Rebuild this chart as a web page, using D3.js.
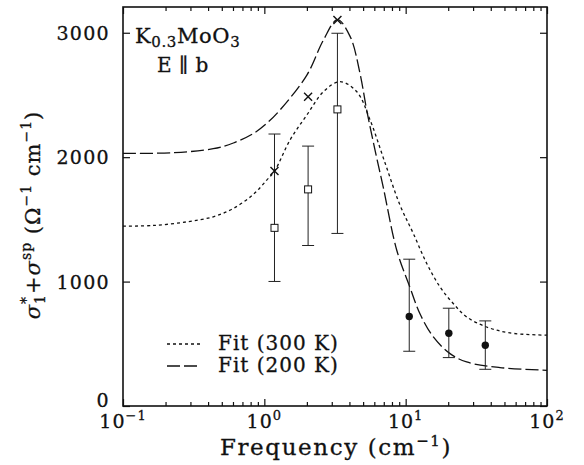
<!DOCTYPE html>
<html><head><meta charset="utf-8">
<script src="https://cdn.jsdelivr.net/npm/d3@7"></script>
<style>
body{margin:0;background:#fff}
text{font-family:"DejaVu Serif",serif;fill:#111;stroke:#111;stroke-width:0.3px}
</style>
</head><body>
<svg id="c" width="584" height="465"></svg>
<script>
// ---- data ----
const xMajorTicks = [0.1, 1, 10, 100];
const xTickExponents = ["−1", "0", "1", "2"];
const yTicks = [0, 1000, 2000, 3000];
const yTickLabels = ["0", "1000", "2000", "3000"];

// Fit (300 K) dotted curve
const fit300Freq = [0.1, 0.164, 0.282, 0.435, 0.604, 0.836, 1.04, 1.18, 1.52, 2.0, 2.62, 3.43, 4.51, 5.6, 7.14, 9.12, 11.3, 14.1, 17.5, 21.7, 27, 37.4, 54.7, 100];
const fit300Val  = [1446, 1451, 1480, 1521, 1588, 1701, 1816, 1888, 2138, 2339, 2526, 2607, 2526, 2299, 1955, 1614, 1389, 1145, 957, 824, 716, 635, 587, 569];
// Fit (200 K) dashed curve
const fit200Freq = [0.1, 0.227, 0.435, 0.604, 0.836, 1.04, 1.29, 2.0, 2.62, 3.29, 4.05, 4.75, 5.3, 6.07, 6.95, 8.65, 10.7, 12.6, 15.7, 20.6, 27, 46.5, 100];
const fit200Val  = [2030, 2036, 2068, 2114, 2190, 2272, 2379, 2660, 2942, 3105, 2969, 2674, 2378, 2057, 1755, 1252, 957, 743, 555, 421, 354, 309, 287];

// crosses
const crossFreq = [1.18, 2.04, 3.29];
const crossVal  = [1888, 2486, 3103];
// open squares with error bars
const squareFreq = [1.18, 2.04, 3.29];
const squareVal  = [1432, 1741, 2384];
const squareLow  = [1001, 1290, 1387];
const squareHigh = [2186, 2089, 2996];
// filled circles with error bars
const circleFreq = [10.6, 20.2, 36.6];
const circleVal  = [719, 585, 488];
const circleLow  = [440, 389, 295];
const circleHigh = [1180, 786, 684];

const legendLabels = ["Fit (300 K)", "Fit (200 K)"];

// ---- layout ----
const L = 123, R = 547, T = 7, B = 406;
const svg = d3.select("#c");
const x = d3.scaleLog().domain([0.1, 100]).range([L, R]);
const y = d3.scaleLinear().domain([0, 3207]).range([B, T]);

const minorTicks = x.ticks().filter(v => !xMajorTicks.some(m => Math.abs(m - v) / m < 1e-6));

function axisGroup(axis, tx, ty) {
  const g = svg.append("g").attr("transform", `translate(${tx},${ty})`).call(axis);
  g.select(".domain").remove();
  g.selectAll("line").attr("stroke", "#111").attr("stroke-width", 1.2);
  g.selectAll("text").remove();
  return g;
}
axisGroup(d3.axisBottom(x).tickValues(xMajorTicks).tickSize(-7).tickFormat(""), 0, B);
axisGroup(d3.axisBottom(x).tickValues(minorTicks).tickSize(-4).tickFormat(""), 0, B);
axisGroup(d3.axisTop(x).tickValues(xMajorTicks).tickSize(-7).tickFormat(""), 0, T);
axisGroup(d3.axisTop(x).tickValues(minorTicks).tickSize(-4).tickFormat(""), 0, T);
axisGroup(d3.axisLeft(y).tickValues(yTicks).tickSize(-7).tickFormat(""), L, 0);
axisGroup(d3.axisRight(y).tickValues(yTicks).tickSize(-7).tickFormat(""), R, 0);

svg.append("rect").attr("x", L).attr("y", T).attr("width", R - L).attr("height", B - T)
  .attr("fill", "none").attr("stroke", "#111").attr("stroke-width", 1.6);

// tick labels
xMajorTicks.forEach((v, i) => {
  const t = svg.append("text").attr("x", x(v)).attr("y", 428).attr("text-anchor", "middle")
    .attr("font-size", 19).attr("letter-spacing", 1);
  t.append("tspan").text("10");
  t.append("tspan").attr("dy", -8).attr("font-size", 13).text(xTickExponents[i]);
});
yTicks.forEach((v, i) => {
  svg.append("text").attr("x", 110).attr("y", v === 0 ? y(v) + 1 : y(v) + 7).attr("text-anchor", "end")
    .attr("font-size", 19).attr("letter-spacing", 1.3).text(yTickLabels[i]);
});

// axis titles
const xt = svg.append("text").attr("x", (L + R) / 2 + 1).attr("y", 455).attr("text-anchor", "middle")
  .attr("font-size", 23).attr("letter-spacing", 1.6);
xt.append("tspan").text("Frequency (cm");
xt.append("tspan").attr("dy", -9).attr("font-size", 15).text("−1");
xt.append("tspan").attr("dy", 9).text(")");

const yt = svg.append("text").attr("transform", "translate(40,215) rotate(-90)")
  .attr("text-anchor", "middle").attr("font-size", 21).attr("letter-spacing", 1);
yt.append("tspan").attr("font-style", "italic").text("σ");
yt.append("tspan").attr("dy", -9).attr("font-size", 14).text("*");
yt.append("tspan").attr("dx", -8).attr("dy", 14).attr("font-size", 14).text("1");
yt.append("tspan").attr("dy", -5).text("+");
yt.append("tspan").attr("font-style", "italic").text("σ");
yt.append("tspan").attr("dy", -9).attr("font-size", 14).text("sp");
yt.append("tspan").attr("dy", 9).text(" (Ω");
yt.append("tspan").attr("dy", -9).attr("font-size", 14).text("−1");
yt.append("tspan").attr("dy", 9).text(" cm");
yt.append("tspan").attr("dy", -9).attr("font-size", 14).text("−1");
yt.append("tspan").attr("dy", 9).text(")");

// annotation
const k = svg.append("text").attr("x", 135).attr("y", 43).attr("font-size", 21).attr("letter-spacing", 0.6);
k.append("tspan").text("K");
k.append("tspan").attr("dy", 4).attr("font-size", 15).text("0.3");
k.append("tspan").attr("dy", -4).text("MoO");
k.append("tspan").attr("dy", 4).attr("font-size", 15).text("3");
svg.append("text").attr("x", 157).attr("y", 72).attr("font-size", 20).attr("letter-spacing", 0.5).text("E ∥ b");

// curves
const line = d3.line().curve(d3.curveCatmullRom.alpha(0.5));
svg.append("path").attr("d", line(fit300Freq.map((f, i) => [x(f), y(fit300Val[i])])))
  .attr("fill", "none").attr("stroke", "#111").attr("stroke-width", 1.3).attr("stroke-dasharray", "3,3");
svg.append("path").attr("d", line(fit200Freq.map((f, i) => [x(f), y(fit200Val[i])])))
  .attr("fill", "none").attr("stroke", "#111").attr("stroke-width", 1.3).attr("stroke-dasharray", "13,4");

// error bars
function errBars(fr, lo, hi) {
  fr.forEach((f, i) => {
    const cx = x(f);
    svg.append("line").attr("x1", cx).attr("x2", cx).attr("y1", y(lo[i])).attr("y2", y(hi[i]))
      .attr("stroke", "#222").attr("stroke-width", 1);
    [lo[i], hi[i]].forEach(v => svg.append("line").attr("x1", cx - 6).attr("x2", cx + 6)
      .attr("y1", y(v)).attr("y2", y(v)).attr("stroke", "#222").attr("stroke-width", 1));
  });
}
errBars(squareFreq, squareLow, squareHigh);
errBars(circleFreq, circleLow, circleHigh);

squareFreq.forEach((f, i) => {
  svg.append("rect").attr("x", x(f) - 3.5).attr("y", y(squareVal[i]) - 3.5).attr("width", 7).attr("height", 7)
    .attr("fill", "#fff").attr("stroke", "#111").attr("stroke-width", 1);
});
crossFreq.forEach((f, i) => {
  const cx = x(f), cy = y(crossVal[i]);
  svg.append("path").attr("d", `M${cx - 4},${cy - 4}L${cx + 4},${cy + 4}M${cx - 4},${cy + 4}L${cx + 4},${cy - 4}`)
    .attr("stroke", "#111").attr("stroke-width", 1.4);
});
circleFreq.forEach((f, i) => {
  svg.append("circle").attr("cx", x(f)).attr("cy", y(circleVal[i])).attr("r", 3.7).attr("fill", "#111");
});

// legend
const dashes = ["3,3", "13,4"];
legendLabels.forEach((lab, i) => {
  const ly = 344 + i * 22;
  svg.append("line").attr("x1", 167).attr("x2", 200).attr("y1", ly).attr("y2", ly)
    .attr("stroke", "#111").attr("stroke-width", 1.3).attr("stroke-dasharray", dashes[i]);
  svg.append("text").attr("x", 218).attr("y", ly + 6).attr("font-size", 20).attr("letter-spacing", 1).text(lab);
});
</script>
</body></html>
